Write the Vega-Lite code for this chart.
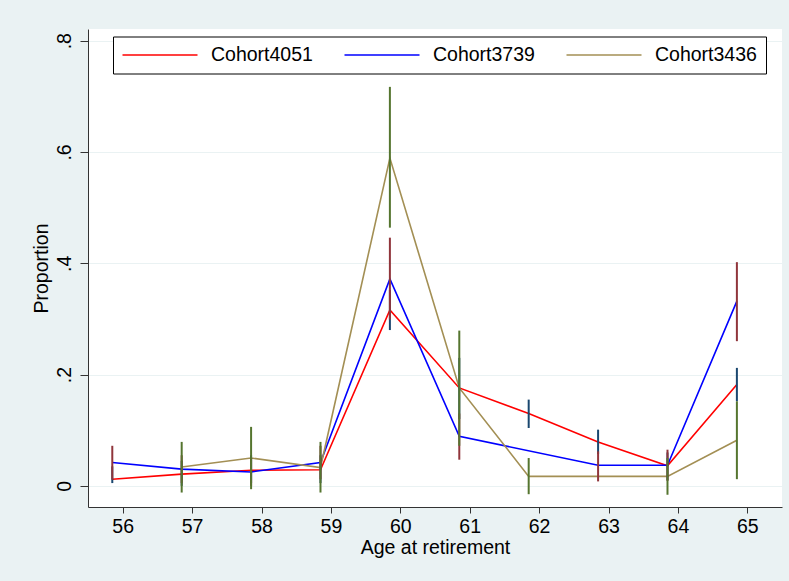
{
  "$schema": "https://vega.github.io/schema/vega-lite/v6.json",
  "width": 694,
  "height": 478,
  "autosize": {"type": "none"},
  "padding": {"left": 88, "top": 29, "right": 7, "bottom": 74},
  "background": "#EAF2F3",
  "config": {
    "view": {"fill": "white", "stroke": null},
    "font": "Liberation Sans"
  },
  "data": {
    "values": [
      {"cohort": "Cohort4051", "age": 55.85, "p": 0.012, "lo": 0.005, "hi": 0.035},
      {"cohort": "Cohort4051", "age": 56.85, "p": 0.021, "lo": 0.0, "hi": 0.045},
      {"cohort": "Cohort4051", "age": 57.85, "p": 0.028, "lo": 0.005, "hi": 0.055},
      {"cohort": "Cohort4051", "age": 58.85, "p": 0.029, "lo": 0.005, "hi": 0.055},
      {"cohort": "Cohort4051", "age": 59.85, "p": 0.316, "lo": 0.28, "hi": 0.352},
      {"cohort": "Cohort4051", "age": 60.85, "p": 0.176, "lo": 0.12, "hi": 0.23},
      {"cohort": "Cohort4051", "age": 61.85, "p": 0.13, "lo": 0.104, "hi": 0.155},
      {"cohort": "Cohort4051", "age": 62.85, "p": 0.079, "lo": 0.057, "hi": 0.101},
      {"cohort": "Cohort4051", "age": 63.85, "p": 0.036, "lo": 0.01, "hi": 0.06},
      {"cohort": "Cohort4051", "age": 64.85, "p": 0.182, "lo": 0.152, "hi": 0.212},
      {"cohort": "Cohort3739", "age": 55.85, "p": 0.042, "lo": 0.011, "hi": 0.072},
      {"cohort": "Cohort3739", "age": 56.85, "p": 0.03, "lo": 0.005, "hi": 0.055},
      {"cohort": "Cohort3739", "age": 57.85, "p": 0.025, "lo": 0.0, "hi": 0.05},
      {"cohort": "Cohort3739", "age": 58.85, "p": 0.042, "lo": 0.012, "hi": 0.072},
      {"cohort": "Cohort3739", "age": 59.85, "p": 0.372, "lo": 0.299, "hi": 0.446},
      {"cohort": "Cohort3739", "age": 60.85, "p": 0.089, "lo": 0.047, "hi": 0.13},
      {"cohort": "Cohort3739", "age": 62.85, "p": 0.037, "lo": 0.008, "hi": 0.062},
      {"cohort": "Cohort3739", "age": 63.85, "p": 0.037, "lo": 0.009, "hi": 0.065},
      {"cohort": "Cohort3739", "age": 64.85, "p": 0.332, "lo": 0.26, "hi": 0.402},
      {"cohort": "Cohort3436", "age": 56.85, "p": 0.034, "lo": -0.012, "hi": 0.079},
      {"cohort": "Cohort3436", "age": 57.85, "p": 0.05, "lo": -0.006, "hi": 0.106},
      {"cohort": "Cohort3436", "age": 58.85, "p": 0.033, "lo": -0.012, "hi": 0.079},
      {"cohort": "Cohort3436", "age": 59.85, "p": 0.589, "lo": 0.464, "hi": 0.717},
      {"cohort": "Cohort3436", "age": 60.85, "p": 0.176, "lo": 0.072, "hi": 0.279},
      {"cohort": "Cohort3436", "age": 61.85, "p": 0.017, "lo": -0.015, "hi": 0.05},
      {"cohort": "Cohort3436", "age": 63.85, "p": 0.017, "lo": -0.016, "hi": 0.05},
      {"cohort": "Cohort3436", "age": 64.85, "p": 0.082, "lo": 0.012, "hi": 0.152}
    ]
  },
  "layer": [
    {
      "mark": {"type": "line", "strokeWidth": 1.6},
      "encoding": {
        "x": {
          "field": "age",
          "type": "quantitative",
          "scale": {"domain": [55.5, 65.5], "nice": false, "zero": false},
          "axis": {
            "values": [56, 57, 58, 59, 60, 61, 62, 63, 64, 65],
            "format": "d",
            "grid": false,
            "tickSize": 6,
            "labelPadding": 4,
            "labelFontSize": 19.5,
            "labelColor": "black",
            "domainColor": "#333333",
            "tickColor": "#333333",
            "title": "Age at retirement",
            "titleFontSize": 19.5,
            "titleFontWeight": "normal",
            "titleColor": "black",
            "titlePadding": 3
          }
        },
        "y": {
          "field": "p",
          "type": "quantitative",
          "scale": {"domain": [-0.038, 0.821], "nice": false, "zero": false},
          "axis": {
            "values": [0, 0.2, 0.4, 0.6, 0.8],
            "labelExpr": "datum.value == 0 ? '0' : replace(format(datum.value, '.1f'), '0.', '.')",
            "labelAngle": 270,
            "labelAlign": "center",
            "labelBaseline": "alphabetic",
            "labelPadding": 10,
            "tickSize": 8,
            "labelFontSize": 19.5,
            "labelColor": "black",
            "grid": true,
            "gridColor": "#EAF2F3",
            "gridWidth": 1.2,
            "domainColor": "#333333",
            "tickColor": "#333333",
            "title": "Proportion",
            "titleFontSize": 19.5,
            "titleFontWeight": "normal",
            "titleColor": "black",
            "titlePadding": 3
          }
        },
        "color": {
          "field": "cohort",
          "type": "nominal",
          "scale": {
            "domain": ["Cohort4051", "Cohort3739", "Cohort3436"],
            "range": ["#FF0000", "#0000FF", "#A38F54"]
          },
          "legend": {
            "orient": "none",
            "legendX": 25,
            "legendY": 7.5,
            "direction": "horizontal",
            "title": null,
            "symbolType": "stroke",
            "symbolSize": 5625,
            "symbolStrokeWidth": 1.6,
            "labelFontSize": 19.5,
            "labelColor": "black",
            "labelOffset": 12.5,
            "labelLimit": 300,
            "columnPadding": 30,
            "padding": 8.5,
            "clipHeight": 20,
            "strokeColor": "black",
            "fillColor": "white"
          }
        }
      }
    },
    {
      "mark": {"type": "rule", "strokeWidth": 2},
      "encoding": {
        "x": {"field": "age", "type": "quantitative"},
        "y": {"field": "lo", "type": "quantitative"},
        "y2": {"field": "hi"},
        "stroke": {
          "field": "cohort",
          "type": "nominal",
          "scale": {
            "domain": ["Cohort4051", "Cohort3739", "Cohort3436"],
            "range": ["#1A476F", "#90353B", "#55752F"]
          },
          "legend": null
        }
      }
    }
  ]
}
